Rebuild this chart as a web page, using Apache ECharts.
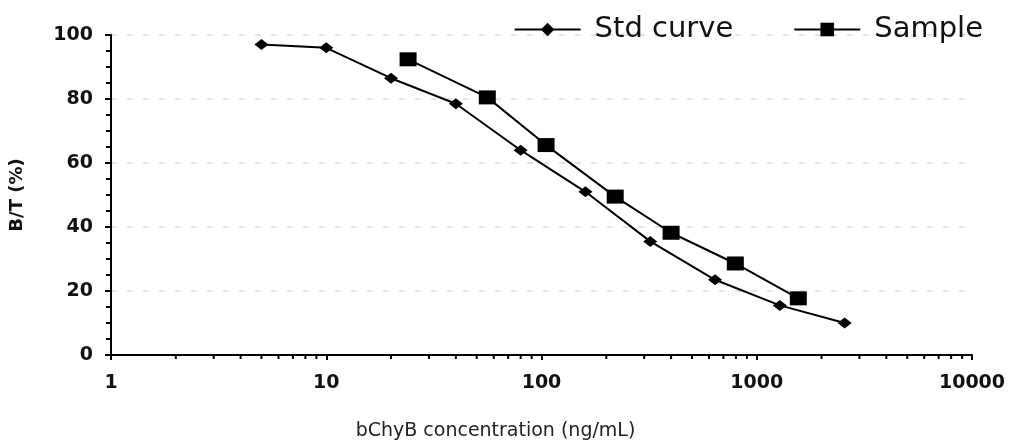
<!DOCTYPE html>
<html><head><meta charset="utf-8">
<script src="https://cdn.jsdelivr.net/npm/echarts@6/dist/echarts.min.js"></script>
<style>html,body{margin:0;padding:0;background:#fff}#c{width:1012px;height:448px}</style>
</head><body><div id="c"></div>
<script>
var stdX = [5, 10, 20, 40, 80, 160, 320, 640, 1280, 2560];
var stdY = [97, 96, 86.5, 78.5, 64, 51, 35.5, 23.5, 15.5, 10];
var sampleX = [24, 56, 105, 220, 400, 795, 1560];
var sampleY = [92.4, 80.5, 65.6, 49.5, 38.2, 28.6, 17.7];
var xTickLabels = ['1', '10', '100', '1000', '10000'];
var yTickValues = [0, 20, 40, 60, 80, 100];
var xMinorTicks = [];
[1, 10, 100, 1000].forEach(function (d) { for (var k = 2; k <= 9; k++) xMinorTicks.push(d * k); });

var font = '"DejaVu Sans", Verdana, sans-serif';
var chart = echarts.init(document.getElementById('c'));
chart.setOption({
  animation: false,
  backgroundColor: '#fff',
  grid: { left: 110, right: 40, top: 35, bottom: 93 },
  legend: {
    top: 10, right: 24, itemWidth: 66, itemHeight: 17, itemGap: 60,
    textStyle: { fontFamily: font, fontSize: 29, color: '#111', padding: [0, 0, 0, 9] },
    data: ['Std curve', 'Sample']
  },
  xAxis: {
    type: 'log', logBase: 10, min: 1, max: 10000,
    name: 'bChyB concentration (ng/mL)', nameLocation: 'middle', nameGap: 67,
    nameTextStyle: { fontFamily: font, fontSize: 19, color: '#222', padding: [0, 92, 0, 0] },
    axisLine: { lineStyle: { color: '#000', width: 2 } },
    axisTick: { show: true, inside: false, length: 5, lineStyle: { color: '#000', width: 2 } },
    axisLabel: { fontFamily: font, fontWeight: 'bold', fontSize: 19, color: '#111', margin: 19,
      formatter: function (v) { var s = String(Math.round(v)); return xTickLabels.indexOf(s) >= 0 ? s : ''; } },
    splitLine: { show: false }
  },
  yAxis: {
    type: 'value', min: 0, max: 100, interval: 20,
    name: 'B/T (%)', nameLocation: 'middle', nameGap: 85,
    nameTextStyle: { fontFamily: font, fontSize: 18, fontWeight: 'bold', color: '#111' },
    axisLine: { show: true, lineStyle: { color: '#000', width: 2 } },
    axisTick: { show: true, length: 6, lineStyle: { color: '#000', width: 2 } },
    minorTick: { show: true, splitNumber: 4, length: 5, lineStyle: { color: '#000', width: 2 } },
    axisLabel: { fontFamily: font, fontWeight: 'bold', fontSize: 19, color: '#111', margin: 18,
      formatter: function (v) { return yTickValues.indexOf(v) >= 0 ? String(v) : ''; } },
    splitLine: { show: true, lineStyle: { color: '#dadada', type: [6, 10], width: 1.5 } }
  },
  series: [
    {
      name: 'minor', type: 'custom', silent: true, clip: false, legendHoverLink: false,
      data: xMinorTicks.map(function (v) { return [v, 0]; }),
      renderItem: function (params, api) {
        var p = api.coord([api.value(0), 0]);
        return { type: 'line', shape: { x1: p[0], y1: p[1], x2: p[0], y2: p[1] + 4 },
          style: { stroke: '#000', lineWidth: 2 } };
      }
    },
    {
      name: 'Std curve', type: 'line', symbol: 'diamond', symbolSize: [14, 11],
      itemStyle: { color: '#000' }, lineStyle: { color: '#000', width: 2 },
      data: stdX.map(function (x, i) { return [x, stdY[i]]; })
    },
    {
      name: 'Sample', type: 'line', symbol: 'rect', symbolSize: [17, 14],
      itemStyle: { color: '#000' }, lineStyle: { color: '#000', width: 2 },
      data: sampleX.map(function (x, i) { return [x, sampleY[i]]; })
    }
  ]
});
</script></body></html>
